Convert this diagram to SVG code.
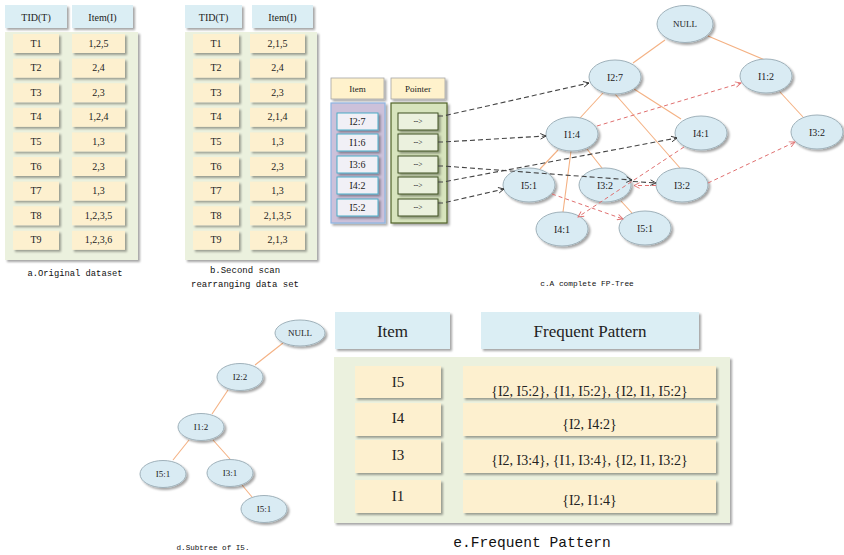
<svg xmlns="http://www.w3.org/2000/svg" width="844" height="555" viewBox="0 0 844 555">
<defs>
<filter id="sh" x="-20%" y="-20%" width="150%" height="160%">
<feDropShadow dx="2" dy="2" stdDeviation="1.2" flood-color="#000" flood-opacity="0.35"/>
</filter>
<marker id="ab" viewBox="0 0 10 10" refX="9" refY="5" markerWidth="7" markerHeight="7" orient="auto" markerUnits="userSpaceOnUse">
<path d="M1,1 L9,5 L1,9" fill="none" stroke="#333" stroke-width="1.3"/>
</marker>
<marker id="ar" viewBox="0 0 10 10" refX="9" refY="5" markerWidth="7" markerHeight="7" orient="auto" markerUnits="userSpaceOnUse">
<path d="M1,1 L9,5 L1,9" fill="none" stroke="#e07070" stroke-width="1.3"/>
</marker>
<style>
.hd{fill:#dbeef4;filter:url(#sh)}
.pn{fill:#ebf1de;filter:url(#sh)}
.rw{fill:#fdf0cf;filter:url(#sh)}
.t{font-family:"Liberation Serif","Times New Roman",serif;fill:#222;text-anchor:middle;dominant-baseline:central}
.s10{font-size:10px}
.s9{font-size:9px}
.cap{font-family:"Liberation Mono","Courier New",monospace;fill:#111;text-anchor:middle}
.nd{fill:#d9ebf3;stroke:#9fb1ba;stroke-width:1;filter:url(#sh)}
.ed{stroke:#f4b183;stroke-width:1.1;fill:none}
.bk{stroke:#444;stroke-width:1.1;stroke-dasharray:5 3;fill:none;marker-end:url(#ab)}
.rd{stroke:#e07070;stroke-width:1;stroke-dasharray:4 3;fill:none;marker-end:url(#ar)}
.ib{fill:#f1f0f6;stroke:#4bacc6;stroke-width:1;filter:url(#sh)}
.pb{fill:#ebf1de;stroke:#3f4f22;stroke-width:1;filter:url(#sh)}
.yh{fill:#fff2cc;stroke:#a6a6a6;stroke-width:0.8;filter:url(#sh)}
</style>
</defs>
<rect width="844" height="555" fill="#fff"/>

<!-- Table a -->
<g id="table-a">
<rect class="hd" x="5" y="5" width="62" height="23"/>
<rect class="hd" x="72" y="5" width="61" height="23"/>
<text class="t s10" x="36" y="17">TID(T)</text>
<text class="t s10" x="102.5" y="17">Item(I)</text>
<rect class="pn" x="5" y="32" width="133" height="228"/>
<g>
<rect class="rw" x="13" y="34" width="46" height="19"/><rect class="rw" x="72" y="34" width="53" height="19"/>
<rect class="rw" x="13" y="58.6" width="46" height="19"/><rect class="rw" x="72" y="58.6" width="53" height="19"/>
<rect class="rw" x="13" y="83.2" width="46" height="19"/><rect class="rw" x="72" y="83.2" width="53" height="19"/>
<rect class="rw" x="13" y="107.8" width="46" height="19"/><rect class="rw" x="72" y="107.8" width="53" height="19"/>
<rect class="rw" x="13" y="132.4" width="46" height="19"/><rect class="rw" x="72" y="132.4" width="53" height="19"/>
<rect class="rw" x="13" y="157" width="46" height="19"/><rect class="rw" x="72" y="157" width="53" height="19"/>
<rect class="rw" x="13" y="181.6" width="46" height="19"/><rect class="rw" x="72" y="181.6" width="53" height="19"/>
<rect class="rw" x="13" y="206.2" width="46" height="19"/><rect class="rw" x="72" y="206.2" width="53" height="19"/>
<rect class="rw" x="13" y="230.8" width="46" height="19"/><rect class="rw" x="72" y="230.8" width="53" height="19"/>
</g>
<g class="t s10">
<text x="36" y="43">T1</text><text x="98.5" y="43">1,2,5</text>
<text x="36" y="67.6">T2</text><text x="98.5" y="67.6">2,4</text>
<text x="36" y="92.2">T3</text><text x="98.5" y="92.2">2,3</text>
<text x="36" y="116.8">T4</text><text x="98.5" y="116.8">1,2,4</text>
<text x="36" y="141.4">T5</text><text x="98.5" y="141.4">1,3</text>
<text x="36" y="166">T6</text><text x="98.5" y="166">2,3</text>
<text x="36" y="190.6">T7</text><text x="98.5" y="190.6">1,3</text>
<text x="36" y="215.2">T8</text><text x="98.5" y="215.2">1,2,3,5</text>
<text x="36" y="239.8">T9</text><text x="98.5" y="239.8">1,2,3,6</text>
</g>
<text class="cap" x="75" y="276" font-size="8.8">a.Original dataset</text>
</g>

<!-- Table b -->
<g id="table-b">
<rect class="hd" x="185" y="5" width="57" height="23"/>
<rect class="hd" x="252" y="5" width="61" height="23"/>
<text class="t s10" x="213.5" y="17">TID(T)</text>
<text class="t s10" x="282.5" y="17">Item(I)</text>
<rect class="pn" x="185" y="32" width="132" height="228"/>
<g>
<rect class="rw" x="193" y="34" width="46" height="19"/><rect class="rw" x="250" y="34" width="55" height="19"/>
<rect class="rw" x="193" y="58.6" width="46" height="19"/><rect class="rw" x="250" y="58.6" width="55" height="19"/>
<rect class="rw" x="193" y="83.2" width="46" height="19"/><rect class="rw" x="250" y="83.2" width="55" height="19"/>
<rect class="rw" x="193" y="107.8" width="46" height="19"/><rect class="rw" x="250" y="107.8" width="55" height="19"/>
<rect class="rw" x="193" y="132.4" width="46" height="19"/><rect class="rw" x="250" y="132.4" width="55" height="19"/>
<rect class="rw" x="193" y="157" width="46" height="19"/><rect class="rw" x="250" y="157" width="55" height="19"/>
<rect class="rw" x="193" y="181.6" width="46" height="19"/><rect class="rw" x="250" y="181.6" width="55" height="19"/>
<rect class="rw" x="193" y="206.2" width="46" height="19"/><rect class="rw" x="250" y="206.2" width="55" height="19"/>
<rect class="rw" x="193" y="230.8" width="46" height="19"/><rect class="rw" x="250" y="230.8" width="55" height="19"/>
</g>
<g class="t s10">
<text x="216" y="43">T1</text><text x="277.5" y="43">2,1,5</text>
<text x="216" y="67.6">T2</text><text x="277.5" y="67.6">2,4</text>
<text x="216" y="92.2">T3</text><text x="277.5" y="92.2">2,3</text>
<text x="216" y="116.8">T4</text><text x="277.5" y="116.8">2,1,4</text>
<text x="216" y="141.4">T5</text><text x="277.5" y="141.4">1,3</text>
<text x="216" y="166">T6</text><text x="277.5" y="166">2,3</text>
<text x="216" y="190.6">T7</text><text x="277.5" y="190.6">1,3</text>
<text x="216" y="215.2">T8</text><text x="277.5" y="215.2">2,1,3,5</text>
<text x="216" y="239.8">T9</text><text x="277.5" y="239.8">2,1,3</text>
</g>
<text class="cap" x="245" y="273" font-size="9">b.Second scan</text>
<text class="cap" x="245" y="287" font-size="9">rearranging data set</text>
</g>

<!-- Header table (c) -->
<g id="header-table">
<rect class="yh" x="331" y="78" width="53" height="21"/>
<rect class="yh" x="391" y="78" width="54" height="21"/>
<text class="t s9" x="357.5" y="88.5">Item</text>
<text class="t s9" x="418" y="88.5">Pointer</text>
<rect x="331" y="103" width="54" height="120" fill="#ccc1da" stroke="#8db4e2" stroke-width="1.2" filter="url(#sh)"/>
<rect x="391" y="103" width="56" height="120" fill="#d7e4bd" stroke="#4f6228" stroke-width="1.2" filter="url(#sh)"/>
<rect class="ib" x="337" y="113" width="41" height="17"/>
<rect class="ib" x="337" y="134" width="41" height="17"/>
<rect class="ib" x="337" y="156" width="41" height="17"/>
<rect class="ib" x="337" y="177" width="41" height="17"/>
<rect class="ib" x="337" y="199" width="41" height="17"/>
<rect class="pb" x="398" y="113" width="40" height="17"/>
<rect class="pb" x="398" y="134" width="40" height="17"/>
<rect class="pb" x="398" y="156" width="40" height="17"/>
<rect class="pb" x="398" y="177" width="40" height="17"/>
<rect class="pb" x="398" y="199" width="40" height="17"/>
<g class="t s10">
<text x="357.5" y="121.5">I2:7</text>
<text x="357.5" y="142.5">I1:6</text>
<text x="357.5" y="164.5">I3:6</text>
<text x="357.5" y="185.5">I4:2</text>
<text x="357.5" y="207.5">I5:2</text>
</g>
<g class="t" font-size="7.5">
<text x="418" y="121.5">--&gt;</text>
<text x="418" y="142.5">--&gt;</text>
<text x="418" y="164.5">--&gt;</text>
<text x="418" y="185.5">--&gt;</text>
<text x="418" y="207.5">--&gt;</text>
</g>
</g>

<!-- FP tree edges -->
<g id="tree-edges" class="ed">
<line x1="665" y1="40" x2="633" y2="63"/>
<line x1="708" y1="36" x2="765" y2="60"/>
<line x1="603" y1="93" x2="580" y2="118"/>
<line x1="634" y1="89" x2="681" y2="119"/>
<line x1="615" y1="94" x2="680" y2="168"/>
<line x1="780" y1="92" x2="803" y2="117"/>
<line x1="558" y1="150" x2="540" y2="169"/>
<line x1="571" y1="151" x2="563" y2="212"/>
<line x1="587" y1="149" x2="602" y2="168"/>
<line x1="621" y1="201" x2="632" y2="213"/>
</g>

<!-- FP tree nodes -->
<g id="n-null"><ellipse class="nd" cx="685" cy="24" rx="28" ry="18.5"/><text class="t s9" x="685" y="24">NULL</text></g>
<g id="n-i2-7"><ellipse class="nd" cx="615" cy="77" rx="26" ry="17"/><text class="t s10" x="615" y="77">I2:7</text></g>
<g id="n-i1-2"><ellipse class="nd" cx="766" cy="76" rx="26" ry="17"/><text class="t s10" x="766" y="76">I1:2</text></g>
<g id="n-i1-4"><ellipse class="nd" cx="572" cy="134" rx="26" ry="17"/><text class="t s10" x="572" y="134">I1:4</text></g>
<g id="n-i4-1a"><ellipse class="nd" cx="701" cy="133" rx="26" ry="17"/><text class="t s10" x="701" y="133">I4:1</text></g>
<g id="n-i3-2c"><ellipse class="nd" cx="817" cy="132" rx="26" ry="17"/><text class="t s10" x="817" y="132">I3:2</text></g>
<g id="n-i5-1a"><ellipse class="nd" cx="529" cy="185" rx="26" ry="17"/><text class="t s10" x="529" y="185">I5:1</text></g>
<g id="n-i3-2a"><ellipse class="nd" cx="605" cy="185" rx="26" ry="17"/><text class="t s10" x="605" y="185">I3:2</text></g>
<g id="n-i3-2b"><ellipse class="nd" cx="682" cy="185" rx="26" ry="17"/><text class="t s10" x="682" y="185">I3:2</text></g>
<g id="n-i4-1b"><ellipse class="nd" cx="562" cy="229" rx="26" ry="17"/><text class="t s10" x="562" y="229">I4:1</text></g>
<g id="n-i5-1b"><ellipse class="nd" cx="645" cy="228" rx="26" ry="17"/><text class="t s10" x="645" y="228">I5:1</text></g>

<!-- Node links -->
<g id="node-links">
<path class="bk" d="M438,116 L443,116 L589,83"/>
<path class="bk" d="M438,142 L443,142 L546,136"/>
<path class="bk" d="M438,166 L443,166 L632,180"/>
<path class="bk" d="M633,181.5 L656,183"/>
<path class="bk" d="M438,182 L443,182 L677,138"/>
<path class="bk" d="M438,203 L443,203 L504,189"/>
<path class="rd" d="M597,126 L741,83"/>
<path class="rd" d="M552,194 L623,219"/>
<path class="rd" d="M684,147 L578,217"/>
<path class="rd" d="M656,185.5 L634,185.5"/>
<path class="rd" d="M708,183 L795,142"/>
</g>
<text class="cap" x="587" y="286" font-size="7.8">c.A complete FP-Tree</text>

<!-- Subtree d edges -->
<g id="subtree-edges" class="ed">
<line x1="283" y1="343" x2="255" y2="365"/>
<line x1="228" y1="390" x2="212" y2="414"/>
<line x1="189" y1="440" x2="173" y2="460"/>
<line x1="213" y1="440" x2="230" y2="459"/>
<line x1="242" y1="485" x2="252" y2="497"/>
</g>
<g id="d-null"><ellipse class="nd" cx="300" cy="333" rx="25" ry="13"/><text class="t s9" x="300" y="333">NULL</text></g>
<g id="d-i2-2"><ellipse class="nd" cx="240" cy="377" rx="23" ry="13.5"/><text class="t s9" x="240" y="377">I2:2</text></g>
<g id="d-i1-2"><ellipse class="nd" cx="201" cy="427" rx="23" ry="13.5"/><text class="t s9" x="201" y="427">I1:2</text></g>
<g id="d-i5-1a"><ellipse class="nd" cx="163" cy="474" rx="23" ry="13.5"/><text class="t s9" x="163" y="474">I5:1</text></g>
<g id="d-i3-1"><ellipse class="nd" cx="230" cy="473" rx="23" ry="13.5"/><text class="t s9" x="230" y="473">I3:1</text></g>
<g id="d-i5-1b"><ellipse class="nd" cx="264" cy="509" rx="23" ry="13.5"/><text class="t s9" x="264" y="509">I5:1</text></g>
<text class="cap" x="213" y="550" font-size="7.6">d.Subtree of I5.</text>

<!-- Table e -->
<g id="table-e">
<rect class="hd" x="335" y="312" width="115" height="37"/>
<rect class="hd" x="481" y="312" width="218" height="37"/>
<text class="t" font-size="17" x="392.5" y="331">Item</text>
<text class="t" font-size="17" x="590" y="331">Frequent Pattern</text>
<rect class="pn" x="334" y="357" width="396" height="166"/>
<rect class="rw" x="355" y="366" width="86" height="32"/><rect class="rw" x="463" y="366" width="253" height="32"/>
<rect class="rw" x="355" y="403" width="86" height="33"/><rect class="rw" x="463" y="403" width="253" height="33"/>
<rect class="rw" x="355" y="440" width="86" height="33"/><rect class="rw" x="463" y="440" width="253" height="33"/>
<rect class="rw" x="355" y="480" width="86" height="33"/><rect class="rw" x="463" y="480" width="253" height="33"/>
<g class="t" font-size="15">
<text x="398" y="382">I5</text>
<text x="398" y="418">I4</text>
<text x="398" y="455">I3</text>
<text x="398" y="496">I1</text>
</g>
<g class="t" font-size="14">
<text x="589.5" y="391">{I2, I5:2}, {I1, I5:2}, {I2, I1, I5:2}</text>
<text x="589.5" y="424">{I2, I4:2}</text>
<text x="589.5" y="460">{I2, I3:4}, {I1, I3:4}, {I2, I1, I3:2}</text>
<text x="589.5" y="500">{I2, I1:4}</text>
</g>
<text class="cap" x="532" y="547" font-size="14.6">e.Frequent Pattern</text>
</g>
</svg>
